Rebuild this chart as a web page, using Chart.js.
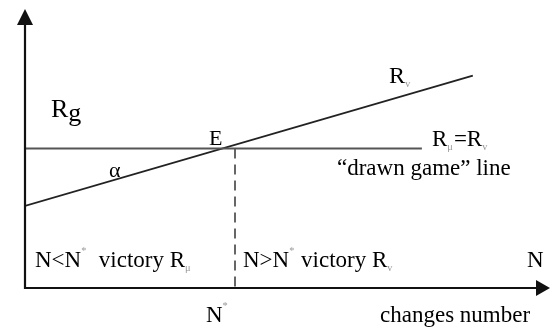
<!DOCTYPE html>
<html>
<head>
<meta charset="utf-8">
<script src="https://cdn.jsdelivr.net/npm/chart.js@4/dist/chart.umd.min.js"></script>
<style>
  html, body { margin: 0; padding: 0; background: #fff; }
  #wrap { width: 551px; height: 328px; }
</style>
</head>
<body>
<div id="wrap"><canvas id="gameChart" width="551" height="328"></canvas></div>
<script>
// data (axis units 0..10, no ticks shown)
const drawnX = [0, 7.56];
const drawnY = [5, 5];
const growX = [0, 8.53];
const growY = [2.94, 7.61];
const nStar = 4;
const eqLevel = 5;

// label text pieces: [text, kind] kind: '' normal, 'sub', 'sup', 'low'
const FONT = '"Liberation Serif", "Times New Roman", serif';
const labels = [
    { x: 51, y: 117, size: 26, parts: [['R', ''], ['g', 'low']] },
    { x: 209, y: 145, size: 22, parts: [['E', '']] },
    { x: 109, y: 177, size: 22, parts: [['α', '']] },
    { x: 389, y: 83, size: 24, parts: [['R', ''], ['v', 'sub']] },
    { x: 432, y: 146, size: 23, parts: [['R', ''], ['μ', 'sub'], ['=R', ''], ['v', 'sub']] },
    { x: 337, y: 175, size: 23, parts: [['\u201cdrawn game\u201d line', '']] },
    { x: 35, y: 267, size: 23, parts: [['N<N', ''], ['*', 'sup'], ['  victory R', ''], ['μ', 'sub']] },
    { x: 243, y: 267, size: 23, parts: [['N>N', ''], ['*', 'sup'], [' victory R', ''], ['v', 'sub']] },
    { x: 527, y: 267, size: 23, parts: [['N', '']] },
    { x: 206, y: 322, size: 23, parts: [['N', ''], ['*', 'sup']] },
    { x: 380, y: 322, size: 23, parts: [['changes number', '']] }
];

const axesPlugin = {
    id: 'axesPlugin',
    afterDatasetsDraw(chart) {
        const ctx = chart.ctx;
        const xs = chart.scales.x, ys = chart.scales.y;
        const x0 = xs.getPixelForValue(0), y0 = ys.getPixelForValue(0);
        const top = chart.chartArea.top, right = chart.chartArea.right;
        ctx.save();
        ctx.strokeStyle = '#111';
        ctx.fillStyle = '#111';
        ctx.lineWidth = 2.2;
        ctx.beginPath();
        ctx.moveTo(x0, y0 + 1);
        ctx.lineTo(x0, top + 12);
        ctx.moveTo(x0 - 1, y0);
        ctx.lineTo(right - 10, y0);
        ctx.stroke();
        // arrow heads
        ctx.beginPath();
        ctx.moveTo(x0, top);
        ctx.lineTo(x0 - 8, top + 16);
        ctx.lineTo(x0 + 8, top + 16);
        ctx.closePath();
        ctx.fill();
        ctx.beginPath();
        ctx.moveTo(right, y0);
        ctx.lineTo(right - 14, y0 - 8);
        ctx.lineTo(right - 14, y0 + 8);
        ctx.closePath();
        ctx.fill();
        ctx.restore();
    }
};

const labelPlugin = {
    id: 'labelPlugin',
    afterDraw(chart) {
        const ctx = chart.ctx;
        ctx.save();
        ctx.textBaseline = 'alphabetic';
        labels.forEach(l => {
            let cx = l.x;
            l.parts.forEach(([t, kind]) => {
                let size = l.size, dy = 0, color = '#000';
                if (kind === 'sub') { size = l.size * 0.45; dy = 4; color = '#999'; }
                if (kind === 'sup') { size = l.size * 0.45; dy = -l.size * 0.55; color = '#999'; }
                if (kind === 'low') { dy = 4; }
                ctx.font = size + 'px ' + FONT;
                ctx.fillStyle = color;
                ctx.fillText(t, cx, l.y + dy);
                cx += ctx.measureText(t).width + (kind === 'sub' || kind === 'sup' ? 1 : 0);
            });
        });
        ctx.restore();
    }
};

const pts = (xs, ys) => xs.map((v, i) => ({ x: v, y: ys[i] }));

new Chart(document.getElementById('gameChart').getContext('2d'), {
    type: 'scatter',
    data: {
        datasets: [
            {
                label: 'drawn game',
                data: pts(drawnX, drawnY),
                showLine: true,
                borderColor: '#555',
                borderWidth: 2.2,
                pointRadius: 0
            },
            {
                label: 'Rv',
                data: pts(growX, growY),
                showLine: true,
                borderColor: '#222',
                borderWidth: 1.8,
                pointRadius: 0
            },
            {
                label: 'N*',
                data: [{ x: nStar, y: eqLevel }, { x: nStar, y: 0 }],
                showLine: true,
                borderColor: '#666',
                borderWidth: 2,
                borderDash: [10, 6],
                pointRadius: 0
            }
        ]
    },
    options: {
        responsive: false,
        animation: false,
        layout: { padding: { left: 25, right: 1, top: 9, bottom: 40 } },
        plugins: { legend: { display: false }, tooltip: { enabled: false } },
        scales: {
            x: { type: 'linear', min: 0, max: 10, display: false },
            y: { type: 'linear', min: 0, max: 10, display: false }
        }
    },
    plugins: [axesPlugin, labelPlugin]
});
</script>
</body>
</html>
